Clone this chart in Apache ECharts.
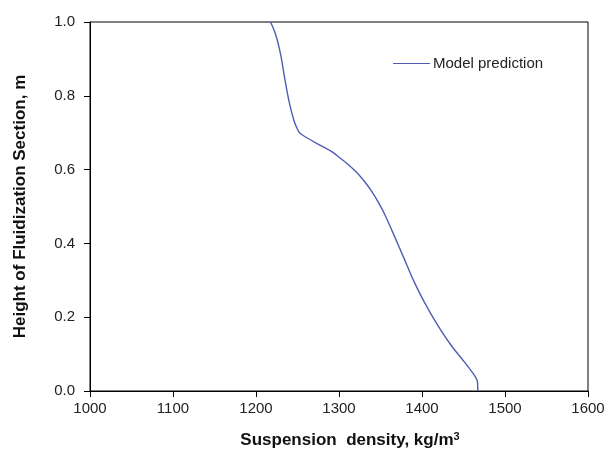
<!DOCTYPE html>
<html>
<head>
<meta charset="utf-8">
<script src="https://cdn.jsdelivr.net/npm/echarts@6/dist/echarts.min.js"></script>
<style>html,body{margin:0;padding:0;background:#fff;}#c{width:608px;height:454px;}</style>
</head>
<body>
<div id="c"></div>
<script>
const seriesName = 'Model prediction';
const densityValues = [1217.5, 1223.6, 1229.6, 1234.4, 1239.6, 1245.7, 1249.8, 1252.5, 1257.8, 1274, 1289, 1302, 1312, 1322, 1331, 1340, 1348, 1355, 1366.5, 1378.6, 1390.7, 1402.8, 1419, 1435, 1451, 1463, 1466.8, 1467.2];
const heightValues  = [1.000, 0.967, 0.913, 0.850, 0.787, 0.733, 0.710, 0.700, 0.691, 0.670, 0.652, 0.630, 0.612, 0.591, 0.567, 0.539, 0.509, 0.479, 0.421, 0.358, 0.295, 0.241, 0.178, 0.124, 0.079, 0.043, 0.025, 0.000];
const xTicks = {min: 1000, max: 1600, step: 100};
const yTicks = {min: 0, max: 1, step: 0.2};

const chart = echarts.init(document.getElementById('c'), null, {renderer: 'canvas'});
const data = densityValues.map((d, i) => [d, heightValues[i]]);
const font = 'Arial, "Liberation Sans", sans-serif';
chart.setOption({
  animation: false,
  backgroundColor: '#fff',
  grid: {left: 90, right: 20, top: 22, bottom: 61, show: true, borderColor: '#000', borderWidth: 1, backgroundColor: 'transparent'},
  legend: {
    data: [seriesName], left: 388, top: 51, icon: 'rect', itemWidth: 37, itemHeight: 1.2, itemGap: 4,
    textStyle: {fontFamily: font, fontSize: 15, color: '#222', padding: [0, 0, 0, -2]}
  },
  xAxis: {
    type: 'value', min: xTicks.min, max: xTicks.max, interval: xTicks.step,
    name: 'Suspension  density, kg/m{sup|3}', nameLocation: 'middle', nameGap: 40,
    nameTextStyle: {fontFamily: font, fontSize: 17, fontWeight: 'bold', color: '#111', padding: [0, 0, 0, 22],
      rich: {sup: {fontFamily: font, fontSize: 11, fontWeight: 'bold', verticalAlign: 'top', padding: [0, 0, 8, 0], color: '#111'}}},
    axisLine: {lineStyle: {color: '#000', width: 1}},
    axisTick: {show: true, inside: false, length: 6, lineStyle: {color: '#000'}},
    axisLabel: {fontFamily: font, fontSize: 15, color: '#222', margin: 10, formatter: v => String(v)},
    splitLine: {show: false}
  },
  yAxis: {
    type: 'value', min: yTicks.min, max: yTicks.max, interval: yTicks.step,
    name: 'Height of Fluidization Section, m', nameLocation: 'middle', nameGap: 61,
    nameTextStyle: {fontFamily: font, fontSize: 17, fontWeight: 'bold', color: '#111'},
    axisLine: {show: true, lineStyle: {color: '#000', width: 1}},
    axisTick: {show: true, inside: false, length: 6, lineStyle: {color: '#000'}},
    axisLabel: {fontFamily: font, fontSize: 15, color: '#222', margin: 15, formatter: v => v.toFixed(1)},
    splitLine: {show: false}
  },
  series: [{
    name: seriesName, type: 'line', data: data, showSymbol: false, smooth: 0.3,
    lineStyle: {color: '#4F5DB5', width: 1.4}, itemStyle: {color: '#4F5DB5'}
  }]
});
</script>
</body>
</html>
